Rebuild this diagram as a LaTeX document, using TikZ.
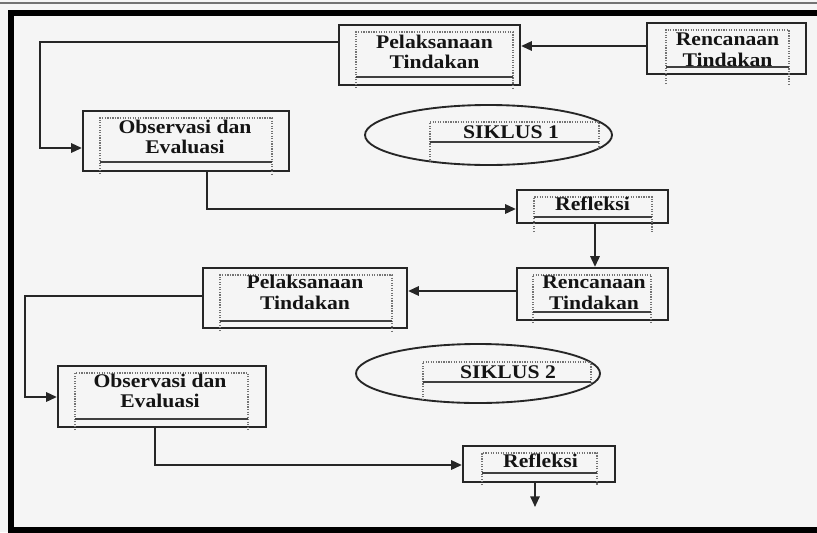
\documentclass[tikz,border=0pt]{standalone}
\usepackage{fontspec}
\setmainfont{Liberation Serif}
\newfontfamily\lblfont{Liberation Serif}[FakeStretch=1.12]
\usetikzlibrary{arrows.meta,fit}
\definecolor{bgc}{HTML}{F5F5F5}
\definecolor{linec}{HTML}{262626}
\newcommand\mkinner[5]{%
  \draw[innerside] (#1,#5) -- (#1,#2) -- (#3,#2) -- (#3,#5);
  \draw[sepline] (#1,#4) -- (#3,#4);}
\begin{document}
\begin{tikzpicture}[x=0.75pt,y=-0.75pt,
  obox/.style={draw=linec, line width=1.7pt, inner sep=0pt},
  innerside/.style={draw=black!55, line width=0.9pt, densely dotted},
  sepline/.style={draw=black!75, line width=1.2pt},
  lbl/.style={font=\lblfont\bfseries\fontsize{14.5}{15.5}\selectfont, align=center, inner sep=0pt, text=black!92},
  conn/.style={draw=linec, line width=1.4pt},
  arr/.style={conn, -{Triangle[length=8pt,width=7pt]}},
  oval/.style={draw=linec, line width=1.4pt}]
\useasboundingbox (0,0) rectangle (817,532);
\fill[bgc] (0,0) rectangle (817,532);
\draw[black!55, line width=1pt] (0,3) -- (817,3);
\begin{scope}
  \clip (0,0) rectangle (817,532);
  \draw[black, line width=3.8pt] (11,13) rectangle (840,530);
\end{scope}

% ---------- coordinates for connector levels
\coordinate (y42) at (0,42);
\coordinate (y46) at (0,46);
\coordinate (y148) at (0,148);
\coordinate (y209) at (0,209);
\coordinate (y291) at (0,291);
\coordinate (y296) at (0,296);
\coordinate (y397) at (0,397);
\coordinate (y465) at (0,465);
\coordinate (y507) at (0,507);
\coordinate (x25) at (25,0);
\coordinate (x40) at (40,0);
\coordinate (x155) at (155,0);
\coordinate (x207) at (207,0);
\coordinate (x535) at (535,0);
\coordinate (x595) at (595,0);

% ---------- cycle 1
\node[obox, fit={(339,25) (520,85)}] (P1) {};
\mkinner{356}{32}{513}{77}{88}
\node[lbl] (P1t) at (434.5,52) {Pelaksanaan\\Tindakan};

\node[obox, fit={(647,23) (806,74)}] (R1) {};
\mkinner{666}{30}{789}{67}{84}
\node[lbl] (R1t) at (727.5,50) {Rencanaan\\Tindakan};

\node[obox, fit={(83,111) (289,171)}] (O1) {};
\mkinner{100}{118}{272}{162}{174}
\node[lbl] (O1t) at (185,137) {Observasi dan\\Evaluasi};

\draw[oval] (488.5,135) ellipse [x radius=123.5, y radius=30];
\begin{scope}
  \clip (488.5,135) ellipse [x radius=123.5, y radius=30];
  \mkinner{430}{122}{599}{142}{170}
\end{scope}
\node[lbl] (S1t) at (511,132) {SIKLUS 1};

\node[obox, fit={(517,190) (668,223)}] (F1) {};
\mkinner{534}{197}{652}{217}{232}
\node[lbl] (F1t) at (592.5,204) {Refleksi};

% ---------- cycle 2
\node[obox, fit={(517,268) (668,320)}] (R2) {};
\mkinner{533}{275}{651}{312}{323}
\node[lbl] (R2t) at (594,293) {Rencanaan\\Tindakan};

\node[obox, fit={(203,268) (407,328)}] (P2) {};
\mkinner{220}{275}{392}{321}{331}
\node[lbl] (P2t) at (305,292.5) {Pelaksanaan\\Tindakan};

\node[obox, fit={(58,366) (266,427)}] (O2) {};
\mkinner{75}{373}{248}{419}{430}
\node[lbl] (O2t) at (160,391) {Observasi dan\\Evaluasi};

\draw[oval] (478,373.5) ellipse [x radius=122, y radius=29.5];
\begin{scope}
  \clip (478,373.5) ellipse [x radius=122, y radius=29.5];
  \mkinner{423}{362}{591}{382}{410}
\end{scope}
\node[lbl] (S2t) at (508,372) {SIKLUS 2};

\node[obox, fit={(463,446) (615,482)}] (F2) {};
\mkinner{482}{453}{597}{473}{485}
\node[lbl] (F2t) at (540.5,461) {Refleksi};

% ---------- connectors
\draw[arr] (R1.west |- y46) -- (P1.east |- y46);
\draw[arr] (P1.west |- y42) -- (x40 |- y42) -- (x40 |- y148) -- (O1.west |- y148);
\draw[arr] (O1.south -| x207) -- (x207 |- y209) -- (F1.west |- y209);
\draw[arr] (F1.south -| x595) -- (R2.north -| x595);
\draw[arr] (R2.west |- y291) -- (P2.east |- y291);
\draw[arr] (P2.west |- y296) -- (x25 |- y296) -- (x25 |- y397) -- (O2.west |- y397);
\draw[arr] (O2.south -| x155) -- (x155 |- y465) -- (F2.west |- y465);
\draw[arr] (F2.south -| x535) -- (x535 |- y507);
\end{tikzpicture}
\end{document}
